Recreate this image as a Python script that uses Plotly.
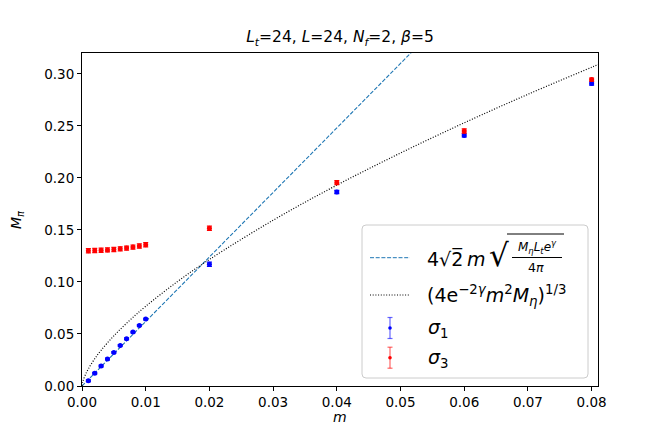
import plotly.graph_objects as go

# valores
m_vals = [0.001, 0.002, 0.003, 0.004, 0.005, 0.006, 0.007, 0.008, 0.009, 0.010,
          0.02, 0.04, 0.06, 0.08]
sigma1 = [0.0051, 0.0122, 0.0192, 0.0259, 0.0323, 0.0390, 0.0454, 0.0518, 0.0582, 0.0643,
          0.1170, 0.1864, 0.2408, 0.2907]
sigma1_err = [0.0008, 0.0008, 0.0008, 0.0008, 0.0008, 0.0008, 0.0008, 0.0008, 0.0008, 0.0008,
              0.0020, 0.0015, 0.0015, 0.0015]
sigma3 = [0.1300, 0.1302, 0.1304, 0.1308, 0.1312, 0.1318, 0.1325, 0.1335, 0.1345, 0.1357,
          0.1516, 0.1954, 0.2450, 0.2945]
sigma3_err = [0.0020, 0.0020, 0.0020, 0.0020, 0.0020, 0.0020, 0.0020, 0.0020, 0.0020, 0.0020,
              0.0020, 0.0020, 0.0020, 0.0015]

# curva tracejada (reta) e curva pontilhada
lin_m = [0.0, 0.06]
lin_M = [0.0, 0.372]
cub_m = [0.0, 0.0001, 0.0002, 0.0005, 0.001, 0.002, 0.003, 0.005, 0.0075, 0.01,
         0.015, 0.02, 0.03, 0.04, 0.05, 0.06, 0.07, 0.08, 0.082]
cub_M = [0.0, 0.0036, 0.0056, 0.0104, 0.0165, 0.0262, 0.0343, 0.0482, 0.0632, 0.0766,
         0.1004, 0.1216, 0.1593, 0.1930, 0.2239, 0.2529, 0.2803, 0.3063, 0.3114]

x_ticks = [0.0, 0.01, 0.02, 0.03, 0.04, 0.05, 0.06, 0.07, 0.08]
y_ticks = [0.0, 0.05, 0.10, 0.15, 0.20, 0.25, 0.30]

FONT = "DejaVu Sans"
# a página tem margem de 8px no body, então a figura é 8px menor
W_FIG, H_FIG = 656, 435
L, R, T, B = 74, 66, 45, 57
PW, PH = W_FIG - L - R, H_FIG - T - B
OFF = 8  # deslocamento do body


def px(x):
    return (x - OFF - L) / PW


def py(y):
    return (H_FIG - B - (y - OFF)) / PH


fig = go.Figure()

fig.add_trace(go.Scatter(x=lin_m, y=lin_M, mode="lines",
                         line=dict(color="#1f77b4", width=1.1, dash="4px,1.7px"),
                         hoverinfo="skip"))
fig.add_trace(go.Scatter(x=cub_m, y=cub_M, mode="lines",
                         line=dict(color="black", width=1.2, dash="1px,1.7px", shape="spline"),
                         hoverinfo="skip"))
fig.add_trace(go.Scatter(x=m_vals, y=sigma1, mode="markers",
                         marker=dict(color="blue", size=5),
                         error_y=dict(type="data", array=sigma1_err, color="blue",
                                      thickness=1.2, width=2.5),
                         cliponaxis=False))
fig.add_trace(go.Scatter(x=m_vals, y=sigma3, mode="markers",
                         marker=dict(color="red", size=5),
                         error_y=dict(type="data", array=sigma3_err, color="red",
                                      thickness=1.2, width=2.5),
                         cliponaxis=False))

shapes = []
annotations = []

# caixa da legenda com cantos arredondados
x0, x1, y0, y1 = 362, 588, 225, 378
r = 4
path = (f"M {px(x0 + r)},{py(y0)} L {px(x1 - r)},{py(y0)} Q {px(x1)},{py(y0)} {px(x1)},{py(y0 + r)} "
        f"L {px(x1)},{py(y1 - r)} Q {px(x1)},{py(y1)} {px(x1 - r)},{py(y1)} "
        f"L {px(x0 + r)},{py(y1)} Q {px(x0)},{py(y1)} {px(x0)},{py(y1 - r)} "
        f"L {px(x0)},{py(y0 + r)} Q {px(x0)},{py(y0)} {px(x0 + r)},{py(y0)} Z")
shapes.append(dict(type="path", path=path, xref="paper", yref="paper",
                   line=dict(color="#cccccc", width=1), fillcolor="rgba(255,255,255,0.8)"))


def hline(xa, xb, y, color="black", width=1, dash="solid"):
    shapes.append(dict(type="line", xref="paper", yref="paper",
                       x0=px(xa), x1=px(xb), y0=py(y), y1=py(y),
                       line=dict(color=color, width=width, dash=dash)))


def vline(x, ya, yb, color="black", width=1):
    shapes.append(dict(type="line", xref="paper", yref="paper",
                       x0=px(x), x1=px(x), y0=py(ya), y1=py(yb),
                       line=dict(color=color, width=width)))


def text(x, y, s, size=19, anchor="left", angle=0):
    annotations.append(dict(x=px(x), y=py(y), xref="paper", yref="paper", text=s,
                            showarrow=False, xanchor=anchor, yanchor="middle",
                            textangle=angle,
                            font=dict(family=FONT, size=size, color="black")))


# amostras de linha
hline(370, 410, 257.7, color="#1f77b4", dash="4px,1.7px")
hline(370, 410, 295, color="black", dash="1px,1.7px")

# símbolos de barra de erro
for yc, col in [(328, "rgba(0,0,255,0.6)"), (357.7, "rgba(255,0,0,0.6)")]:
    vline(390, yc - 10.5, yc + 10.5, color=col, width=1.2)
    hline(387.5, 392.5, yc - 10.5, color=col, width=1.2)
    hline(387.5, 392.5, yc + 10.5, color=col, width=1.2)
    shapes.append(dict(type="circle", xref="paper", yref="paper",
                       x0=px(388.2), x1=px(391.8), y0=py(yc - 1.8), y1=py(yc + 1.8),
                       fillcolor=col.replace("0.6", "1"), line=dict(width=0)))

# rótulo 1: 4√2 m √(Mη Lt e^γ / 4π)
text(425, 258, "4√2\u0305\u2009<i>m</i>")
text(487, 255, "√", size=31)
hline(507, 564, 234)
text(537, 246.5, "<i>M</i><sub><i>η</i></sub><i>L</i><sub><i>t</i></sub><i>e</i><sup><i>γ</i></sup>",
     size=12, anchor="center")
hline(512, 562, 257.5)
text(536, 267, "4<i>π</i>", size=12.5, anchor="center")

# rótulo 2
text(425, 295, "(4e<sup>−2<i>γ</i></sup><i>m</i><sup>2</sup><i>M</i><sub><i>η</i></sub>)<sup>1/3</sup>")

# rótulos σ
text(426, 328, "<i>σ</i><sub>1</sub>")
text(426, 358, "<i>σ</i><sub>3</sub>")

# rótulos dos eixos
text((82 + 598) / 2, 417, "<i>m</i>", size=14, anchor="center")
text(17, 220, "<i>M</i><sub><i>π</i></sub>", size=14, anchor="center", angle=-90)

fig.update_layout(
    width=W_FIG, height=H_FIG,
    margin=dict(l=L, r=R, t=T, b=B),
    paper_bgcolor="white", plot_bgcolor="white",
    showlegend=False,
    font=dict(family=FONT, size=13.5, color="black"),
    title=dict(text="<i>L</i><sub><i>t</i></sub>=24, <i>L</i>=24, <i>N</i><sub><i>f</i></sub>=2, <i>β</i>=5",
               x=0.5, xref="paper", y=(H_FIG - (37 - OFF)) / H_FIG, yref="container",
               xanchor="center", yanchor="middle", font=dict(size=15.5)),
    xaxis=dict(range=[0, 0.081], tickvals=x_ticks, tickformat=".2f",
               showline=True, linecolor="black", linewidth=1, mirror=True,
               ticks="outside", ticklen=4, tickwidth=1, tickcolor="black",
               showgrid=False, zeroline=False, automargin=False),
    yaxis=dict(range=[0, 0.32], tickvals=y_ticks, tickformat=".2f",
               showline=True, linecolor="black", linewidth=1, mirror=True,
               ticks="outside", ticklen=4, tickwidth=1, tickcolor="black",
               showgrid=False, zeroline=False, automargin=False),
    shapes=shapes,
    annotations=annotations,
)

fig.write_html("out.html")
